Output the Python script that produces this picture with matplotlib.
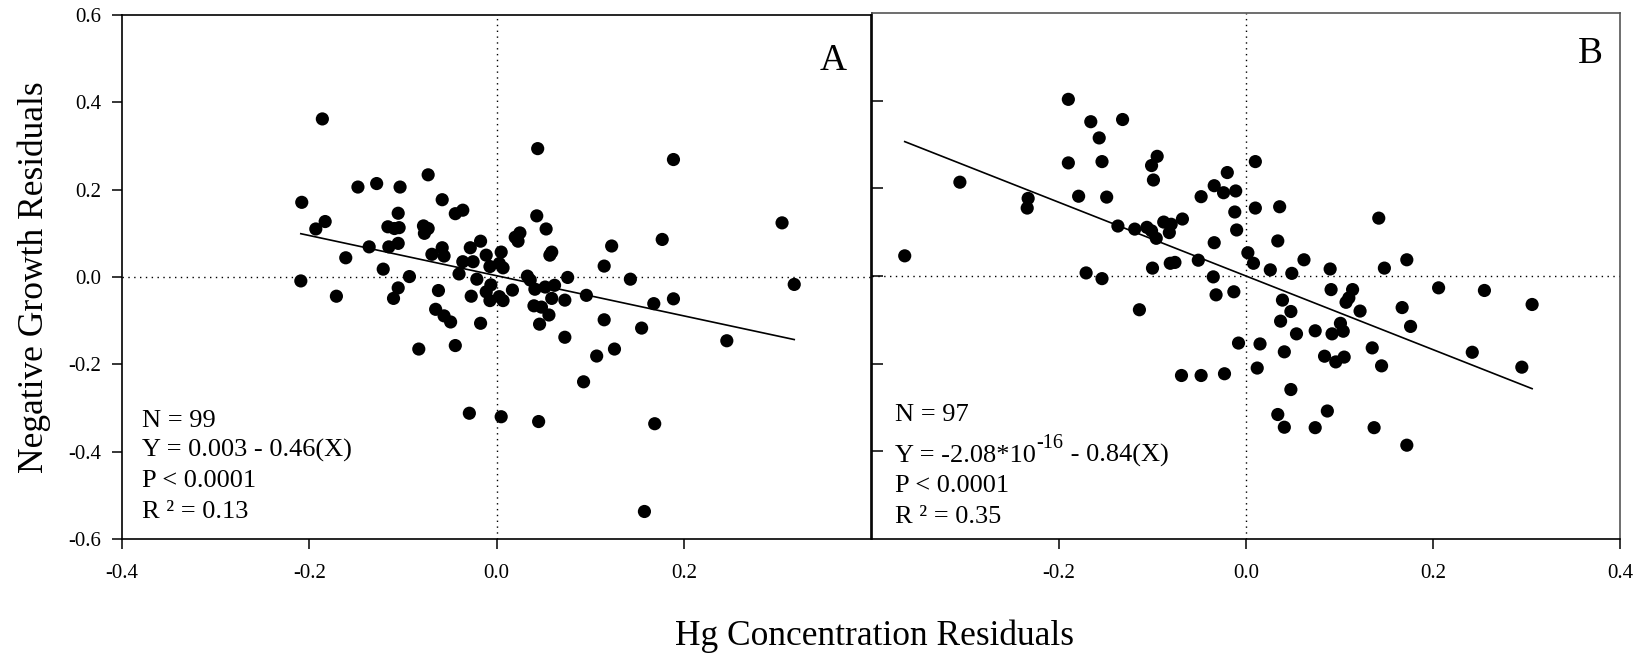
import numpy as np
import matplotlib
matplotlib.use("Agg")
import matplotlib.pyplot as plt

plt.rcParams['font.family'] = ['Liberation Serif', 'DejaVu Serif']

# ---------------- data ----------------
# Panel A: Hg concentration residuals (x) vs negative growth residuals (y)
a_x = [0.044, 0.189, -0.186, -0.208, -0.148, -0.128, -0.103, -0.073, -0.058, -0.044,
       -0.036, -0.105, -0.193, -0.183, -0.116, -0.109, -0.104, -0.078, -0.073, -0.077,
       0.043, 0.053, 0.025, 0.020, 0.023, 0.059, 0.057, -0.136, -0.115, -0.105,
       -0.161, -0.069, -0.058, -0.056, -0.028, -0.017, -0.011, 0.005, -0.036, -0.025,
       -0.007, 0.003, 0.007, -0.040, -0.121, -0.093, -0.209, -0.021, 0.033, 0.036,
       0.076, -0.105, -0.110, -0.171, -0.062, -0.006, -0.011, -0.007, 0.003, 0.007,
       -0.027, 0.017, 0.041, 0.052, 0.062, 0.059, 0.073, -0.065, -0.056, -0.049,
       -0.017, 0.040, 0.048, 0.056, 0.046, 0.073, -0.083, -0.044, -0.029, 0.005,
       0.045, 0.169, 0.158, 0.305, 0.318, 0.123, 0.177, 0.115, 0.143, 0.096,
       0.168, 0.189, 0.115, 0.155, 0.126, 0.107, 0.246, 0.093]
a_y = [0.294, 0.269, 0.362, 0.171, 0.206, 0.214, 0.206, 0.234, 0.177, 0.145,
       0.153, 0.146, 0.110, 0.127, 0.115, 0.111, 0.113, 0.117, 0.111, 0.100,
       0.140, 0.110, 0.101, 0.091, 0.082, 0.057, 0.050, 0.069, 0.069, 0.077,
       0.044, 0.052, 0.067, 0.048, 0.067, 0.082, 0.050, 0.057, 0.035, 0.035,
       0.024, 0.031, 0.021, 0.007, 0.018, 0.001, -0.009, -0.005, 0.002, -0.007,
       -0.001, -0.025, -0.049, -0.044, -0.031, -0.018, -0.034, -0.054, -0.045, -0.054,
       -0.044, -0.030, -0.028, -0.023, -0.019, -0.049, -0.053, -0.074, -0.089, -0.103,
       -0.106, -0.066, -0.069, -0.087, -0.108, -0.138, -0.165, -0.157, -0.312, -0.320,
       -0.331, -0.336, -0.537, 0.124, -0.017, 0.071, 0.086, 0.025, -0.005, -0.042,
       -0.061, -0.050, -0.098, -0.117, -0.165, -0.181, -0.146, -0.240]

# Panel B
b_x = [-0.190, -0.166, -0.132, -0.157, -0.190, -0.154, -0.095, -0.101, -0.099, -0.306,
       -0.233, -0.234, -0.179, -0.149, -0.365, -0.137, -0.119, -0.106, -0.101, -0.096,
       -0.088, -0.080, -0.082, -0.068, -0.048, -0.034, -0.020, -0.024, -0.011, -0.012,
       -0.010, 0.010, 0.010, -0.034, -0.051, 0.002, 0.008, -0.100, -0.081, -0.076,
       -0.171, -0.154, -0.035, -0.032, -0.013, -0.114, -0.008, 0.015, 0.012, -0.069,
       -0.048, -0.023, 0.036, 0.034, 0.142, 0.026, 0.049, 0.062, 0.090, 0.148,
       0.172, 0.091, 0.114, 0.110, 0.107, 0.206, 0.255, 0.306, 0.039, 0.048,
       0.122, 0.167, 0.037, 0.054, 0.074, 0.092, 0.101, 0.104, 0.176, 0.041,
       0.084, 0.096, 0.105, 0.135, 0.145, 0.242, 0.295, 0.048, 0.034, 0.041,
       0.074, 0.087, 0.137, 0.172]
b_y = [0.403, 0.352, 0.357, 0.315, 0.258, 0.261, 0.273, 0.252, 0.219, 0.214,
       0.177, 0.155, 0.182, 0.180, 0.046, 0.114, 0.107, 0.111, 0.103, 0.086,
       0.123, 0.118, 0.099, 0.130, 0.181, 0.206, 0.236, 0.190, 0.194, 0.146,
       0.105, 0.261, 0.155, 0.076, 0.036, 0.053, 0.029, 0.018, 0.029, 0.031,
       0.007, -0.006, -0.002, -0.043, -0.036, -0.077, -0.153, -0.155, -0.210, -0.227,
       -0.227, -0.223, 0.158, 0.080, 0.132, 0.014, 0.006, 0.037, 0.016, 0.018,
       0.037, -0.031, -0.031, -0.050, -0.060, -0.027, -0.033, -0.065, -0.055, -0.081,
       -0.080, -0.072, -0.103, -0.132, -0.125, -0.132, -0.108, -0.126, -0.115, -0.173,
       -0.183, -0.196, -0.185, -0.164, -0.205, -0.174, -0.208, -0.259, -0.316, -0.345,
       -0.346, -0.308, -0.346, -0.386]

# regression coefficients (intercept, slope)
a_fit = (0.003, -0.46)
b_fit = (-2.08e-16, -0.84)

a_stats = ["N = 99", "Y = 0.003 - 0.46(X)", "P < 0.0001", "R \u00b2 = 0.13"]
b_eq_parts = ["Y = -2.08*10", "-16", " - 0.84(X)"]
b_stats = ["N = 97", None, "P < 0.0001", "R \u00b2 = 0.35"]

a_xticks = [-0.4, -0.2, 0.0, 0.2]
b_xticks = [-0.2, 0.0, 0.2, 0.4]
yticks = [-0.6, -0.4, -0.2, 0.0, 0.2, 0.4, 0.6]
b_yticks = [-0.4, -0.2, 0.0, 0.2, 0.4]

# ---------------- figure ----------------
W, H = 1648, 663
fig = plt.figure(figsize=(W / 100, H / 100), dpi=100)

def px_axes(l, t, r, b):
    return fig.add_axes([l / W, 1 - b / H, (r - l) / W, (b - t) / H])

axA = px_axes(122, 15, 871, 539)
axB = px_axes(872, 13, 1620, 539)

tick_fs = 15
text_fs = 19

for ax, xs, ys, fit in [(axA, a_x, a_y, a_fit), (axB, b_x, b_y, b_fit)]:
    ax.set_xlim(-0.4, 0.4)
    ax.set_ylim(-0.6, 0.6)
    ax.axhline(0, color='black', lw=1.0, linestyle=(0, (1, 3.2)), zorder=1)
    ax.axvline(0, color='black', lw=1.0, linestyle=(0, (1, 3.2)), zorder=1)
    ax.scatter(xs, ys, s=90, color='black', edgecolors='none', zorder=3)
    xarr = np.array(xs)
    xl = np.array([xarr.min(), xarr.max()])
    ax.plot(xl, fit[0] + fit[1] * xl, color='black', lw=1.2, zorder=2)
    for sp in ax.spines.values():
        sp.set_linewidth(1.2)

# Panel A axes
axA.set_xticks(a_xticks)
axA.set_xticklabels(['%.1f' % v for v in a_xticks])
axA.set_yticks(yticks)
axA.set_yticklabels(['%.1f' % v for v in yticks])
axA.tick_params(axis='both', direction='out', length=7, width=1.1,
                labelsize=tick_fs, colors='black')
axA.tick_params(axis='y', pad=8)
axA.tick_params(axis='x', pad=11)
axA.set_ylabel("Negative Growth Residuals", fontsize=25.5, labelpad=12)

# Panel B axes
axB.set_xticks(b_xticks)
axB.set_xticklabels(['%.1f' % v for v in b_xticks])
axB.set_yticks(b_yticks)
axB.set_yticklabels([])
axB.tick_params(axis='x', direction='out', length=7, width=1.1,
                labelsize=tick_fs, pad=11)
axB.tick_params(axis='y', direction='in', length=8, width=1.1)
axB.spines['top'].set_color('#555555')
axB.spines['right'].set_color('#555555')

# Panel letters
fig.text(847 / W, 1 - 70 / H, "A", ha='right', va='baseline', fontsize=27)
fig.text(1603 / W, 1 - 63 / H, "B", ha='right', va='baseline', fontsize=27)

# stats text
for s, yb in zip(a_stats, [427, 457, 487, 518]):
    fig.text(142 / W, 1 - yb / H, s, ha='left', va='baseline', fontsize=text_fs)
for s, yb in zip(b_stats, [421, 462, 492, 523]):
    if s is not None:
        fig.text(895 / W, 1 - yb / H, s, ha='left', va='baseline', fontsize=text_fs)

# B equation with a superscript exponent
t1 = fig.text(895 / W, 1 - 462 / H, b_eq_parts[0], ha='left', va='baseline',
              fontsize=text_fs)
t2 = axB.annotate(b_eq_parts[1], xy=(1, 0), xycoords=t1, xytext=(0.5, 10),
                  textcoords='offset points', ha='left', va='bottom', fontsize=14.5)
t3 = axB.annotate(b_eq_parts[2], xy=(1, 0), xycoords=(t2, t1), xytext=(0, 0),
                  textcoords='offset points', ha='left', va='bottom',
                  fontsize=text_fs)

fig.text(874 / W, 1 - 645 / H, "Hg Concentration Residuals", ha='center',
         va='baseline', fontsize=25.5)

fig.savefig("out.png", dpi=100)
